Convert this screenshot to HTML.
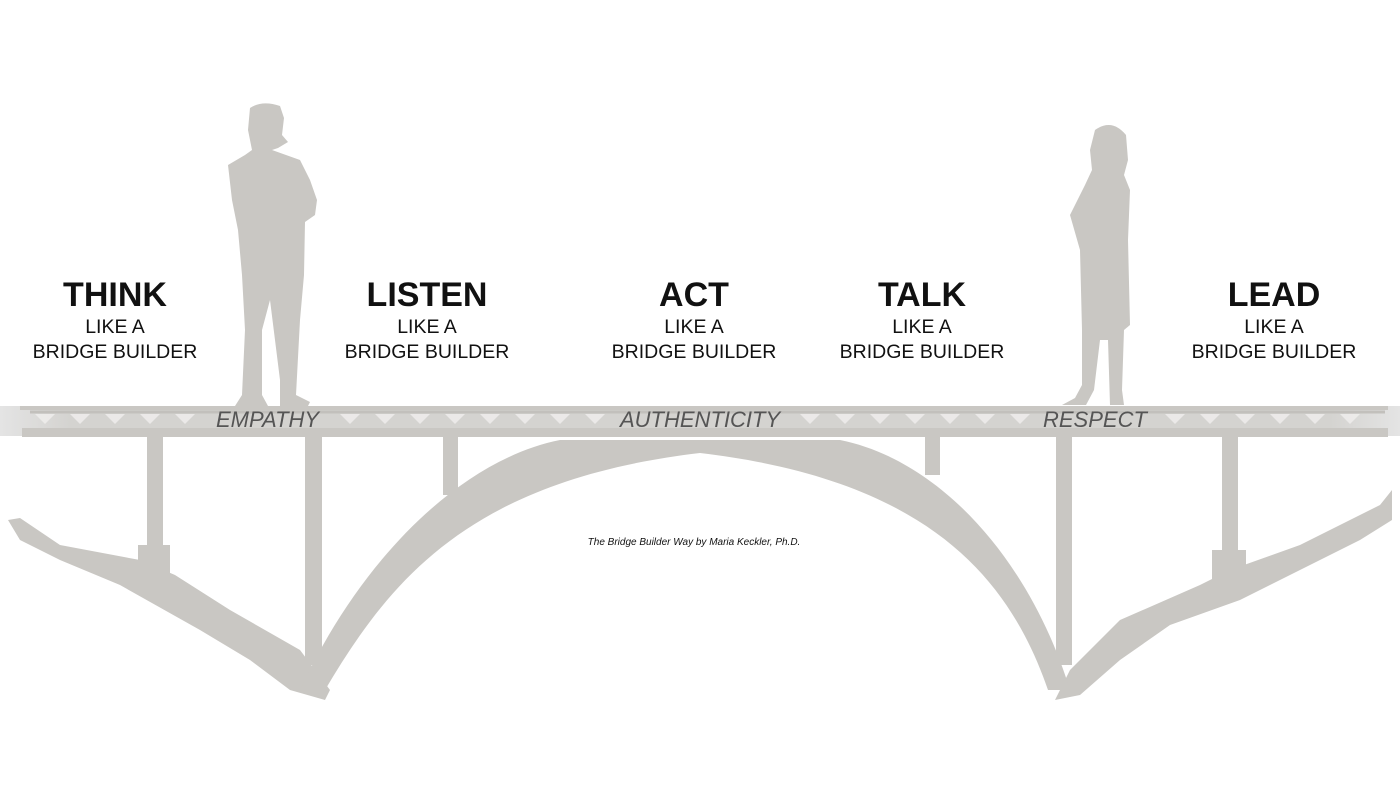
<!DOCTYPE html>
<html><head><meta charset="utf-8"><style>
html,body{margin:0;padding:0;background:#fff;}
body{width:1400px;height:791px;position:relative;overflow:hidden;font-family:"Liberation Sans",sans-serif;}
.t{position:absolute;text-align:center;width:240px;color:#111;}
.t b{display:block;font-size:34px;line-height:40px;font-weight:bold;}
.t span{display:block;font-size:19.5px;line-height:25px;}
.l{position:absolute;font-style:italic;font-size:22px;color:#555;top:407px;}
</style></head><body>
<svg width="1400" height="791" style="position:absolute;left:0;top:0">
<defs><linearGradient id="band" x1="0" x2="1"><stop offset="0" stop-color="#e4e4e4"/><stop offset="0.05" stop-color="#d4d3d0"/><stop offset="0.95" stop-color="#d4d3d0"/><stop offset="1" stop-color="#e4e4e4"/></linearGradient></defs>
<g fill="#c9c7c3">
<path d="M8,520 L20,518 L60,545 L140,560 L175,575 L230,610 L300,650 L330,690 L325,700 L290,690 L250,660 L200,630 L120,585 L60,560 L20,540 Z"/>
<path d="M1392,490 L1380,505 L1300,545 L1230,570 L1200,585 L1120,620 L1070,670 L1055,700 L1080,695 L1120,660 L1170,625 L1240,600 L1300,570 L1360,540 L1392,520 Z"/>
<path d="M300,690 C360,560 460,460 560,440 L840,440 C940,460 1030,560 1070,690 L1048,690 C1010,580 930,480 700,453 C470,480 390,580 325,690 Z"/>
<rect x="147" y="435" width="16" height="115"/>
<rect x="138" y="545" width="32" height="35"/>
<rect x="305" y="435" width="17" height="230"/>
<rect x="443" y="435" width="15" height="60"/>
<rect x="925" y="435" width="15" height="40"/>
<rect x="1056" y="435" width="16" height="230"/>
<rect x="1222" y="435" width="16" height="120"/>
<rect x="1212" y="550" width="34" height="30"/>
<path d="M250,108 Q262,100 280,106 L284,118 L282,135 L288,142 L278,148 L272,150 L300,160 L310,180 L317,200 L315,215 L305,222 L304,275 L300,320 L296,395 L310,402 L308,406 L280,406 L280,380 L270,300 L262,330 L262,395 L268,406 L235,406 L242,395 L245,330 L242,275 L238,230 L232,200 L228,165 L245,155 L252,150 L248,130 Z"/>
<path d="M1095,130 Q1112,118 1126,135 L1128,160 L1124,175 L1130,190 L1128,240 L1130,325 L1124,330 L1122,390 L1124,405 L1110,405 L1108,340 L1100,340 L1094,390 L1086,405 L1062,405 L1075,398 L1082,385 L1082,330 L1080,250 L1070,215 L1085,185 L1092,170 L1090,150 Z"/>
</g>
<rect x="0" y="406" width="1400" height="30" fill="url(#band)"/>
<rect x="20" y="406" width="1368" height="4" fill="#c9c7c3"/>
<rect x="22" y="428" width="1366" height="9" fill="#c9c7c3"/>
<path d="M30,412 L1385,412" stroke="#c2c0bc" stroke-width="3"/>
<g fill="#f0efed" opacity="0.8">
<path d="M35,414 l10,10 l10,-10 z M70,414 l10,10 l10,-10 z M105,414 l10,10 l10,-10 z M140,414 l10,10 l10,-10 z M175,414 l10,10 l10,-10 z M340,414 l10,10 l10,-10 z M375,414 l10,10 l10,-10 z M410,414 l10,10 l10,-10 z M445,414 l10,10 l10,-10 z M480,414 l10,10 l10,-10 z M515,414 l10,10 l10,-10 z M550,414 l10,10 l10,-10 z M585,414 l10,10 l10,-10 z M800,414 l10,10 l10,-10 z M835,414 l10,10 l10,-10 z M870,414 l10,10 l10,-10 z M905,414 l10,10 l10,-10 z M940,414 l10,10 l10,-10 z M975,414 l10,10 l10,-10 z M1010,414 l10,10 l10,-10 z M1165,414 l10,10 l10,-10 z M1200,414 l10,10 l10,-10 z M1235,414 l10,10 l10,-10 z M1270,414 l10,10 l10,-10 z M1305,414 l10,10 l10,-10 z M1340,414 l10,10 l10,-10 z"/>
</g>
</svg>
<div class="t" style="left:-5px;top:275px"><b>THINK</b><span>LIKE A</span><span>BRIDGE BUILDER</span></div>
<div class="t" style="left:307px;top:275px"><b>LISTEN</b><span>LIKE A</span><span>BRIDGE BUILDER</span></div>
<div class="t" style="left:574px;top:275px"><b>ACT</b><span>LIKE A</span><span>BRIDGE BUILDER</span></div>
<div class="t" style="left:802px;top:275px"><b>TALK</b><span>LIKE A</span><span>BRIDGE BUILDER</span></div>
<div class="t" style="left:1154px;top:275px"><b>LEAD</b><span>LIKE A</span><span>BRIDGE BUILDER</span></div>
<div class="l" style="left:216px">EMPATHY</div>
<div class="l" style="left:620px">AUTHENTICITY</div>
<div class="l" style="left:1043px">RESPECT</div>
<div style="position:absolute;left:544px;width:300px;text-align:center;top:537px;font-size:10px;font-style:italic;color:#111">The Bridge Builder Way by Maria Keckler, Ph.D.</div>
</body></html>
